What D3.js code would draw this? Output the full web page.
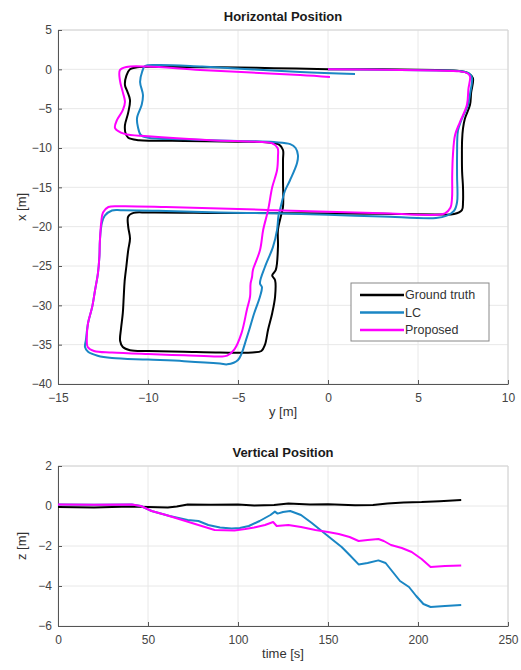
<!DOCTYPE html>
<html>
<head>
<meta charset="utf-8">
<script src="https://cdn.jsdelivr.net/npm/d3@7"></script>
<style>
  body { margin: 0; background: #fff; }
  text { font-family: "Liberation Sans", Arial, sans-serif; }
</style>
</head>
<body>
<script>
// Horizontal trajectory, points are [y, x] in metres
var groundTruthXY = [
  [0, 0], [3, 0.0], [6, -0.1], [7.3, -0.2], [7.8, -0.5], [8.05, -1.1], [7.95, -3], [7.89, -4.5],
  [7.6, -6.3], [7.5, -7.5], [7.45, -9], [7.44, -10.9], [7.45, -13], [7.5, -15], [7.5, -16.9],
  [7.44, -17.9], [7.0, -18.4], [6, -18.45], [3, -18.35], [-2, -18.3], [-6, -18.25], [-10, -18.2],
  [-10.8, -18.25], [-11.1, -18.7], [-11.1, -20], [-11.0, -21.5], [-11.1, -23], [-11.2, -25],
  [-11.3, -27], [-11.35, -29], [-11.4, -31], [-11.5, -33], [-11.55, -34.5], [-11.4, -35.3],
  [-11.0, -35.7], [-10, -35.8], [-8, -35.9], [-6, -36.0], [-4.2, -36.0], [-3.7, -35.8],
  [-3.5, -35.0], [-3.33, -33.1], [-3.1, -31], [-2.94, -28.9], [-2.94, -26.8], [-3.1, -26.2],
  [-2.9, -25.5], [-2.78, -22.6], [-2.78, -20.4], [-2.6, -18.5], [-2.5, -17.5], [-2.5, -14],
  [-2.5, -11.5], [-2.5, -10.25], [-2.7, -9.6], [-3.3, -9.3], [-5, -9.2], [-8, -9.1],
  [-10.5, -9.0], [-11.1, -8.7], [-11.25, -8.1], [-11.28, -7.1], [-11.1, -5.5], [-11.0, -3.9],
  [-11.15, -2.8], [-11.28, -2.0], [-11.2, -0.8], [-11.0, 0.0], [-10.6, 0.25], [-9, 0.3],
  [-6, 0.25], [-3, 0.15], [0, 0.0]
];
var lcXY = [
  [0, 0], [3, -0.05], [6, -0.15], [7.4, -0.25], [7.85, -0.55], [8.0, -1.1], [7.9, -3], [7.78, -4.5],
  [7.4, -6.5], [7.22, -7.8], [7.17, -10.9], [7.17, -13.5], [7.17, -16.9], [7.0, -18.0],
  [6.6, -18.6], [6, -18.9], [3, -18.7], [0, -18.5], [-3, -18.3], [-6, -18.2], [-9, -18.0],
  [-11.5, -17.9], [-12.0, -17.95], [-12.4, -18.6], [-12.56, -19.5], [-12.67, -21.7],
  [-12.7, -23.8], [-12.78, -25.9], [-12.94, -28.05], [-13.1, -30.2], [-13.33, -32.25],
  [-13.45, -34.4], [-13.5, -35.3], [-13.33, -35.9], [-12.8, -36.4], [-12, -36.7], [-10, -36.9],
  [-8, -37.1], [-6, -37.4], [-5.6, -37.5], [-5.0, -36.95], [-4.5, -34.0], [-4.1, -31],
  [-3.78, -28.9], [-3.67, -27.7], [-3.78, -27.2], [-3.5, -25.1], [-3.06, -22.6], [-2.83, -20.4],
  [-2.75, -18.6], [-2.67, -17.9], [-2.4, -15.5], [-2.11, -14.1], [-1.72, -11.9], [-1.67, -10.9],
  [-1.8, -10.0], [-2.1, -9.5], [-3, -9.25], [-5, -9.1], [-8, -8.9], [-10, -8.7], [-10.4, -8.35],
  [-10.56, -7.33], [-10.61, -6.19], [-10.35, -4.5], [-10.28, -3.26], [-10.44, -1.6],
  [-10.33, -0.34], [-10.17, 0.4], [-9.5, 0.55], [-7, 0.35], [-1.55, -0.35], [1.5, -0.6]
];
var proposedXY = [
  [0, 0], [3, -0.05], [6, -0.15], [7.3, -0.25], [7.75, -0.5], [7.89, -0.9], [7.8, -2.5],
  [7.72, -4.5], [7.33, -6.7], [7.06, -8.35], [6.94, -10.9], [6.9, -13.5], [6.89, -16.35],
  [6.8, -17.6], [6.5, -18.3], [6.0, -18.5], [3, -18.3], [0, -18.1], [-3, -17.9], [-6, -17.7],
  [-9, -17.5], [-11.5, -17.4], [-12.2, -17.5], [-12.5, -18.2], [-12.6, -19.5], [-12.67, -21.7],
  [-12.7, -23.8], [-12.78, -25.9], [-12.94, -28.05], [-13.1, -30.2], [-13.33, -32.25],
  [-13.4, -34.4], [-13.35, -35.3], [-13.0, -35.8], [-12, -36.0], [-10, -36.2], [-8, -36.35],
  [-6, -36.5], [-5.6, -36.4], [-5.2, -35.6], [-4.8, -33.5], [-4.5, -30.5], [-4.33, -28.9],
  [-4.3, -27.2], [-4.22, -26.4], [-4.17, -25.5], [-3.78, -23.0], [-3.6, -20.4], [-3.33, -17.9],
  [-3.1, -15], [-2.83, -12.8], [-2.78, -11.1], [-2.8, -10.0], [-3.1, -9.4], [-4, -9.2],
  [-6.5, -9.0], [-10, -8.5], [-11.3, -8.2], [-11.83, -7.46], [-11.72, -6.44], [-11.4, -5.2],
  [-11.28, -4.15], [-11.4, -2.9], [-11.56, -1.4], [-11.56, -0.1], [-11.2, 0.3], [-10, 0.35],
  [-7.1, -0.08], [-1.55, -0.72], [0.11, -0.97]
];

// Vertical position, points are [time s, z m]
var groundTruthZ = [
  [0, -0.05], [10, -0.06], [20, -0.07], [30, -0.05], [41, -0.03], [50, -0.05], [61, -0.08],
  [66, -0.03], [72, 0.07], [85, 0.06], [100, 0.08], [109, 0.02], [120, 0.05], [128, 0.13],
  [140, 0.08], [150, 0.09], [165, 0.04], [175, 0.05], [183, 0.13], [192, 0.18], [202, 0.2],
  [212, 0.24], [224, 0.3]
];
var lcZ = [
  [0, 0.08], [20, 0.06], [41, 0.08], [46, 0.0], [52, -0.25], [62, -0.5], [72, -0.7], [78, -0.75],
  [83.5, -0.95], [90, -1.08], [96.5, -1.12], [101, -1.1], [106, -1.0], [112, -0.75],
  [118, -0.45], [120.5, -0.28], [122, -0.38], [125, -0.3], [129, -0.25], [135, -0.45],
  [141, -0.85], [146.5, -1.25], [152, -1.65], [157.6, -2.05], [162, -2.45], [167, -2.92],
  [172, -2.85], [178, -2.72], [182, -2.85], [186, -3.3], [190, -3.75], [195, -4.05],
  [199, -4.5], [203, -4.9], [207, -5.05], [215, -5.0], [224, -4.95]
];
var proposedZ = [
  [0, 0.08], [20, 0.06], [41, 0.08], [46, 0.0], [52, -0.25], [60, -0.45], [69, -0.7],
  [78, -0.95], [87, -1.2], [98, -1.23], [104, -1.15], [109, -1.07], [115, -0.95],
  [119.5, -0.8], [121.5, -1.0], [128, -0.95], [135, -1.05], [143, -1.2], [150, -1.3],
  [156, -1.4], [162, -1.55], [167, -1.75], [172, -1.7], [178, -1.65], [181, -1.75],
  [185, -1.95], [191, -2.1], [196.5, -2.3], [202, -2.65], [207, -3.05], [215, -3.0],
  [224, -2.97]
];

var seriesNames = ["Ground truth", "LC", "Proposed"];
var seriesColors = ["#000000", "#1a86c4", "#ff00ff"];

var yTicksTop = [-15, -10, -5, 0, 5, 10];
var xTicksTop = [5, 0, -5, -10, -15, -20, -25, -30, -35, -40];
var timeTicks = [0, 50, 100, 150, 200, 250];
var zTicks = [2, 0, -2, -4, -6];

var width = 521, height = 670;

var svg = d3.select("body").append("svg")
    .attr("width", width)
    .attr("height", height);

// draws a MATLAB like axes box with grid, ticks, labels
function drawAxes(g, xs, ys, xt, yt, title, xlabel, ylabel) {
  var x0 = xs.range()[0], x1 = xs.range()[1];
  var y0 = ys.range()[1], y1 = ys.range()[0];

  // grid
  g.append("g").selectAll("line").data(xt).enter().append("line")
      .attr("x1", function(d) { return xs(d); }).attr("x2", function(d) { return xs(d); })
      .attr("y1", y0).attr("y2", y1)
      .attr("stroke", "#e8e8e8").attr("stroke-width", 1);
  g.append("g").selectAll("line").data(yt).enter().append("line")
      .attr("y1", function(d) { return ys(d); }).attr("y2", function(d) { return ys(d); })
      .attr("x1", x0).attr("x2", x1)
      .attr("stroke", "#e8e8e8").attr("stroke-width", 1);

  // box top/right
  g.append("path")
      .attr("d", "M" + x0 + "," + y0 + "H" + x1 + "V" + y1)
      .attr("fill", "none").attr("stroke", "#d4d4d4");

  var ax = g.append("g")
      .attr("transform", "translate(0," + y1 + ")")
      .call(d3.axisBottom(xs).tickValues(xt).tickSizeInner(-4).tickSizeOuter(0).tickPadding(9));
  var ay = g.append("g")
      .attr("transform", "translate(" + x0 + ",0)")
      .call(d3.axisLeft(ys).tickValues(yt).tickSizeInner(-4).tickSizeOuter(0).tickPadding(6));
  [ax, ay].forEach(function(a) {
    a.select(".domain").attr("stroke", "#555");
    a.selectAll(".tick line").attr("stroke", "#555");
    a.selectAll("text").attr("fill", "#444").style("font-size", "12px")
        .style("font-family", "'Liberation Sans', Arial, sans-serif");
  });

  g.append("text")
      .attr("x", (x0 + x1) / 2).attr("y", y0 - 9)
      .attr("text-anchor", "middle")
      .style("font-size", "13px").style("font-weight", "bold")
      .attr("fill", "#1a1a1a")
      .text(title);
  g.append("text")
      .attr("x", (x0 + x1) / 2).attr("y", y1 + 32)
      .attr("text-anchor", "middle")
      .style("font-size", "13px").attr("fill", "#333")
      .text(xlabel);
  g.append("text")
      .attr("transform", "translate(26," + ((y0 + y1) / 2) + ") rotate(-90)")
      .attr("text-anchor", "middle")
      .style("font-size", "13px").attr("fill", "#333")
      .text(ylabel);
}

// ****************** Horizontal position ***************************
var hx = d3.scaleLinear().domain([-15, 10]).range([58, 508]);
var hy = d3.scaleLinear().domain([-40, 5]).range([384, 30]);
var topPlot = svg.append("g");
drawAxes(topPlot, hx, hy, yTicksTop, xTicksTop, "Horizontal Position", "y [m]", "x [m]");

var hline = d3.line()
    .x(function(d) { return hx(d[0]); })
    .y(function(d) { return hy(d[1]); })
    .curve(d3.curveCatmullRom.alpha(0.5));

[groundTruthXY, lcXY, proposedXY].forEach(function(s, i) {
  topPlot.append("path")
      .attr("d", hline(s))
      .attr("fill", "none")
      .attr("stroke", seriesColors[i])
      .attr("stroke-width", 2)
      .attr("stroke-linejoin", "round");
});

// legend
var leg = topPlot.append("g").attr("transform", "translate(351,283)");
leg.append("rect")
    .attr("width", 138).attr("height", 58)
    .attr("fill", "#fff").attr("stroke", "#888");
seriesNames.forEach(function(n, i) {
  var yy = 12 + i * 17.5;
  leg.append("line")
      .attr("x1", 9).attr("x2", 53).attr("y1", yy).attr("y2", yy)
      .attr("stroke", seriesColors[i]).attr("stroke-width", 2.5);
  leg.append("text")
      .attr("x", 54).attr("y", yy).attr("dy", "0.35em")
      .style("font-size", "12.5px").attr("fill", "#333")
      .text(n);
});

// ****************** Vertical position ***************************
var vx = d3.scaleLinear().domain([0, 250]).range([58, 508]);
var vy = d3.scaleLinear().domain([-6, 2]).range([626, 466]);
var bottomPlot = svg.append("g");
drawAxes(bottomPlot, vx, vy, timeTicks, zTicks, "Vertical Position", "time [s]", "z [m]");

var vline = d3.line()
    .x(function(d) { return vx(d[0]); })
    .y(function(d) { return vy(d[1]); });

[groundTruthZ, lcZ, proposedZ].forEach(function(s, i) {
  bottomPlot.append("path")
      .attr("d", vline(s))
      .attr("fill", "none")
      .attr("stroke", seriesColors[i])
      .attr("stroke-width", 2)
      .attr("stroke-linejoin", "round");
});
</script>
</body>
</html>
